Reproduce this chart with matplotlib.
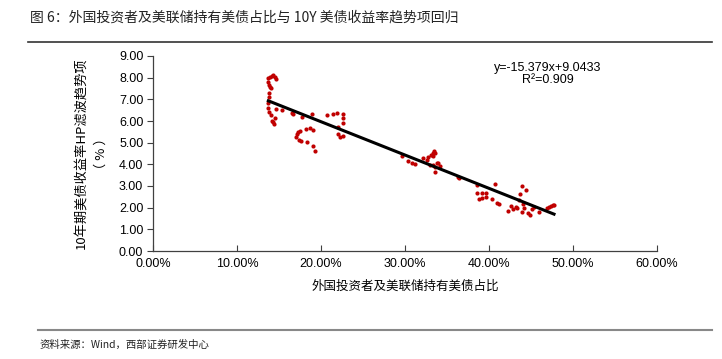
import numpy as np
import matplotlib
matplotlib.use('Agg')
import matplotlib.pyplot as plt

plt.rcParams['font.family'] = ['Noto Sans CJK SC', 'DejaVu Sans']

# foreign + Fed share of treasuries vs 10Y yield HP trend (%)
share = [0.1373, 0.139, 0.1413, 0.1433, 0.1452, 0.1464, 0.1373, 0.138, 0.139, 0.1405,
         0.138, 0.138, 0.1373, 0.1373, 0.1385, 0.140, 0.1413, 0.1433, 0.144, 0.1452,
         0.1464, 0.153, 0.165, 0.167, 0.177, 0.1897, 0.2068, 0.2147, 0.2194, 0.2266,
         0.2258, 0.2258, 0.2206, 0.2198, 0.2226, 0.2258, 0.171, 0.173, 0.175, 0.182,
         0.187, 0.1908, 0.170, 0.174, 0.1758, 0.183, 0.1908, 0.193,
         0.296, 0.303, 0.3087, 0.312, 0.3218, 0.3258, 0.3278, 0.3306, 0.333, 0.3345,
         0.3357, 0.3337, 0.3298, 0.333, 0.3357, 0.3377, 0.3397, 0.3417, 0.3357, 0.3627,
         0.3643, 0.3853, 0.4071, 0.3861, 0.3913, 0.3961, 0.3885, 0.3913, 0.3961, 0.404,
         0.4091, 0.4123, 0.423, 0.4258, 0.429, 0.432, 0.4337, 0.4389, 0.4437, 0.4369,
         0.4361, 0.4409, 0.4417, 0.4389, 0.4468, 0.4488, 0.4508, 0.4536, 0.4599, 0.4687,
         0.4714, 0.4734, 0.4758, 0.4774]
yield_hp = [7.97, 8.04, 8.08, 8.11, 8.04, 7.92, 7.81, 7.66, 7.58, 7.51,
            7.28, 7.09, 6.85, 6.58, 6.43, 6.28, 6.01, 5.95, 5.86, 6.12,
            6.54, 6.51, 6.38, 6.31, 6.17, 6.31, 6.28, 6.32, 6.35, 6.32,
            6.12, 5.92, 5.74, 5.40, 5.25, 5.31, 5.40, 5.51, 5.55, 5.63,
            5.66, 5.58, 5.27, 5.12, 5.06, 5.04, 4.85, 4.63,
            4.38, 4.15, 4.07, 4.01, 4.28, 4.20, 4.35, 4.43, 4.51, 4.61,
            4.51, 4.38, 3.97, 3.97, 3.89, 4.05, 4.08, 3.94, 3.66, 3.43,
            3.38, 3.05, 3.08, 2.66, 2.69, 2.66, 2.39, 2.46, 2.51, 2.39,
            2.23, 2.17, 1.86, 2.08, 1.92, 2.02, 1.97, 3.00, 2.81, 2.63,
            2.35, 2.17, 1.97, 1.81, 1.74, 1.66, 1.92, 2.04, 1.81, 1.97,
            2.04, 2.09, 2.11, 2.12]

slope, intercept = -15.379, 9.0433
r2 = 0.909

fig = plt.figure(figsize=(7.22, 3.59), dpi=100)
ax = fig.add_axes([153/722, 1-251/359, 504/722, 195/359])

ax.scatter(share, yield_hp, s=9, color='#C00000', zorder=3, linewidths=0)
xf = np.array([min(share), max(share)])
ax.plot(xf, slope*xf + intercept, color='black', lw=2.2, zorder=4)

ax.set_xlim(0, 0.6)
ax.set_ylim(0, 9)
ax.set_xticks(np.arange(0, 0.61, 0.1))
ax.set_xticklabels(['{:.2f}%'.format(v*100) for v in np.arange(0, 0.61, 0.1)])
ax.set_yticks(np.arange(0, 9.1, 1))
ax.set_yticklabels(['{:.2f}'.format(v) for v in np.arange(0, 9.1, 1)])
ax.tick_params(axis='y', direction='out', length=4, labelsize=9, color='#404040', pad=3)
ax.tick_params(axis='x', direction='in', length=4, labelsize=9, color='#404040', pad=5)
for lbl in ax.get_xticklabels() + ax.get_yticklabels():
    lbl.set_family('Liberation Sans')
for s in ['top', 'right']:
    ax.spines[s].set_visible(False)
for s in ['left', 'bottom']:
    ax.spines[s].set_color('#404040')
    ax.spines[s].set_linewidth(0.9)

ax.set_xlabel('外国投资者及美联储持有美债占比', fontsize=9, labelpad=7)
ax.set_ylabel('10年期美债收益率HP滤波趋势项\n（ % ）', fontsize=9.5, labelpad=8, linespacing=1.6)

eq = 'y={:.3f}x+{:.4f}\nR²={:.3f}'.format(slope, intercept, r2)
ax.text((548-153)/504, 0.97, eq, transform=ax.transAxes,
        ha='center', va='top', fontsize=9, linespacing=1.0, family='Liberation Sans')

fig.text(30/722, 1-18/359, '图 6：外国投资者及美联储持有美债占比与 10Y 美债收益率趋势项回归',
         fontsize=10, va='center', ha='left', color='#222222')
fig.add_artist(plt.Line2D([28/722, 712/722], [1-42/359, 1-42/359], color='#333333', lw=1.2))
fig.add_artist(plt.Line2D([38/722, 712/722], [1-330/359, 1-330/359], color='#888888', lw=1.5))
fig.text(40/722, 1-345/359, '资料来源：Wind，西部证券研发中心', fontsize=7.5, va='center',
         ha='left', color='#222222')

fig.savefig('out.png', dpi=100)
